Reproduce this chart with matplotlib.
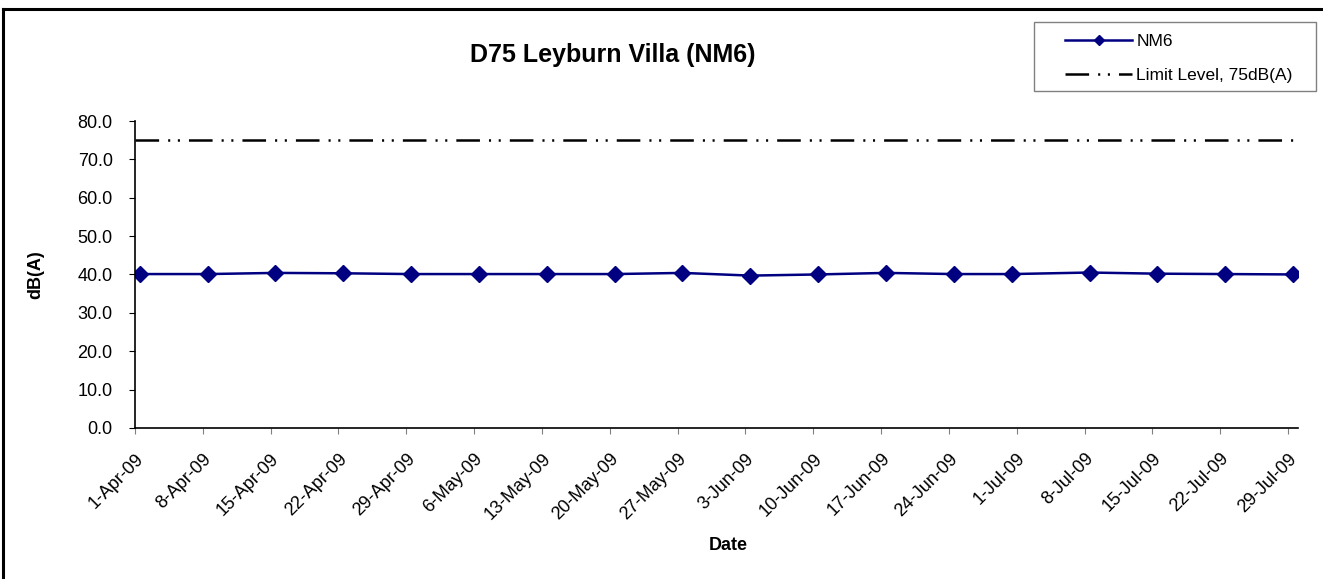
import matplotlib
matplotlib.use("Agg")
import matplotlib.pyplot as plt
import matplotlib.dates as mdates
from matplotlib.lines import Line2D
from matplotlib.patches import Rectangle
import pandas as pd

plt.rcParams['font.family'] = ['Liberation Sans', 'DejaVu Sans']
plt.rcParams['lines.scale_dashes'] = False

# measurement dates (taken around midday) and levels for NM6
dates = ["2009-04-01", "2009-04-08", "2009-04-15", "2009-04-22", "2009-04-29",
         "2009-05-06", "2009-05-13", "2009-05-20", "2009-05-27", "2009-06-03",
         "2009-06-10", "2009-06-17", "2009-06-24", "2009-06-30", "2009-07-08",
         "2009-07-15", "2009-07-22", "2009-07-29"]
nm6 = [40.1, 40.1, 40.4, 40.3, 40.1, 40.1, 40.1, 40.1, 40.4, 39.7,
       40.0, 40.4, 40.1, 40.1, 40.5, 40.2, 40.1, 40.0]
limit = 75.0

tick_dates = ["2009-04-01", "2009-04-08", "2009-04-15", "2009-04-22", "2009-04-29",
              "2009-05-06", "2009-05-13", "2009-05-20", "2009-05-27", "2009-06-03",
              "2009-06-10", "2009-06-17", "2009-06-24", "2009-07-01", "2009-07-08",
              "2009-07-15", "2009-07-22", "2009-07-29"]
tick_labels = ["1-Apr-09", "8-Apr-09", "15-Apr-09", "22-Apr-09", "29-Apr-09",
               "6-May-09", "13-May-09", "20-May-09", "27-May-09", "3-Jun-09",
               "10-Jun-09", "17-Jun-09", "24-Jun-09", "1-Jul-09", "8-Jul-09",
               "15-Jul-09", "22-Jul-09", "29-Jul-09"]
yticks = [0, 10, 20, 30, 40, 50, 60, 70, 80]

x = pd.to_datetime(dates) + pd.Timedelta(hours=12)
xt = pd.to_datetime(tick_dates)
x0 = pd.Timestamp("2009-04-01")
x1 = pd.Timestamp("2009-07-30")

fig = plt.figure(figsize=(13.23, 5.79), dpi=100)
ax = fig.add_axes([0.102, 0.261, 0.879, 0.530])

ax.plot(x, nm6, color="#000080", lw=1.8, marker="D", ms=8, label="NM6")
ax.plot([x0, x1], [limit, limit], color="black", lw=1.8,
        linestyle=(0, (17, 6.5, 1.5, 5.5, 1.5, 6.5)), label="Limit Level, 75dB(A)")

ax.set_xlim(x0, x1)
ax.set_ylim(0, 80)
ax.set_yticks(yticks)
ax.set_yticklabels([f"{v:.1f}" for v in yticks])
ax.set_xticks(mdates.date2num(xt))
ax.set_xticklabels(tick_labels, rotation=45, ha="right", va="top", rotation_mode="anchor")

ax.tick_params(axis="both", labelsize=13, direction="out", length=4)
ax.tick_params(axis="x", color="#808080", pad=12)
ax.tick_params(axis="y", pad=12)
for s in ["top", "right"]:
    ax.spines[s].set_visible(False)
ax.spines["left"].set_linewidth(1.2)
ax.spines["bottom"].set_linewidth(1.2)

ax.set_xlabel("Date", fontsize=13, fontweight="bold")
ax.xaxis.set_label_coords(0.51, -0.355)
ax.set_ylabel("dB(A)", fontsize=13, fontweight="bold")
ax.yaxis.set_label_coords(-0.078, 0.5)

fig.text(0.463, 0.905, "D75 Leyburn Villa (NM6)", fontsize=18, fontweight="bold",
         ha="center", va="center")

# legend entries without frame, box drawn separately (Excel style padding)
leg = ax.legend(loc="upper left", bbox_to_anchor=(0.805, 0.941),
                bbox_transform=fig.transFigure, borderaxespad=0, borderpad=0,
                fontsize=12.5, frameon=False, handlelength=3.86,
                handletextpad=0.25, labelspacing=1.07, markerscale=0.7)
fig.add_artist(Rectangle((0.7816, 0.8428), 0.2131, 0.1192, transform=fig.transFigure,
                         fill=False, edgecolor="#808080", lw=1.0))

# outer chart border (top and left edges visible)
fig.add_artist(Line2D([0.0025, 1.0], [0.984, 0.984], transform=fig.transFigure,
                      color="black", lw=2.2))
fig.add_artist(Line2D([0.0025, 0.0025], [0.0, 0.984], transform=fig.transFigure,
                      color="black", lw=2.2))

fig.savefig("out.png", dpi=100)
